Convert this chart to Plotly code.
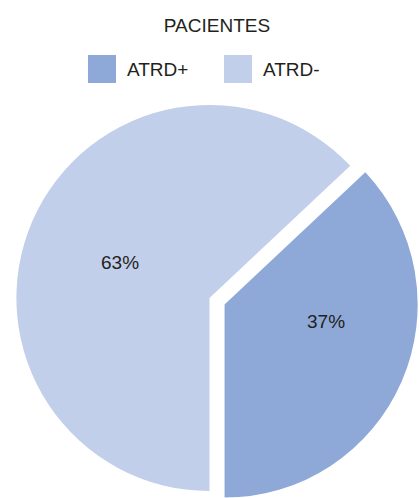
import plotly.graph_objects as go

title = "PACIENTES"
labels = ["ATRD+", "ATRD-"]
values = [37, 63]
colors = ["#8ea9d8", "#c2cfea"]
pull = [0.085, 0]

W, H = 419, 508
font = dict(family="Liberation Sans", size=19, color="#231f20")

# pie is fed in reverse order so ATRD- runs clockwise from 6 o'clock
# and ATRD+ ends up on the right, as in the original
fig = go.Figure(
    go.Pie(
        labels=labels[::-1],
        values=values[::-1],
        marker=dict(colors=colors[::-1]),
        pull=pull[::-1],
        sort=False,
        direction="clockwise",
        rotation=180,
        textinfo="none",
        hoverinfo="label+percent",
        domain=dict(x=[0, 1], y=[0, 420 / H]),
        showlegend=False,
    )
)

# percentage labels, placed where the original has them
total = sum(values)
label_pos = [(326, 321), (120, 262)]
for v, (px, py) in zip(values, label_pos):
    fig.add_annotation(
        text=f"{round(100 * v / total)}%", xref="paper", yref="paper",
        x=px / W, y=1 - py / H, xanchor="center", yanchor="middle",
        showarrow=False, font=font,
    )

# legend drawn by hand so the swatches can be as big as in the original
for i, (lab, col) in enumerate(zip(labels, colors)):
    x0 = 88 + i * 136
    fig.add_shape(
        type="rect", xref="paper", yref="paper",
        x0=x0 / W, x1=(x0 + 28) / W,
        y0=1 - 83 / H, y1=1 - 55 / H,
        fillcolor=col, line_width=0,
    )
    fig.add_annotation(
        text=lab, xref="paper", yref="paper",
        x=(x0 + 37) / W, y=1 - 70 / H,
        xanchor="left", yanchor="middle", showarrow=False,
        font=font,
    )

fig.update_layout(
    width=W,
    height=H,
    margin=dict(t=0, r=0, l=0, b=0),
    title=dict(
        text=title, x=217 / W, y=1 - 25 / H, xanchor="center", yanchor="middle",
        font=font,
    ),
    paper_bgcolor="white",
    plot_bgcolor="white",
)

# drop the browser's default 8px body margin so the figure sits at 0,0
fig.write_html(
    "out.html",
    config={"displayModeBar": False},
    post_script="document.body.style.margin='0px';",
)
